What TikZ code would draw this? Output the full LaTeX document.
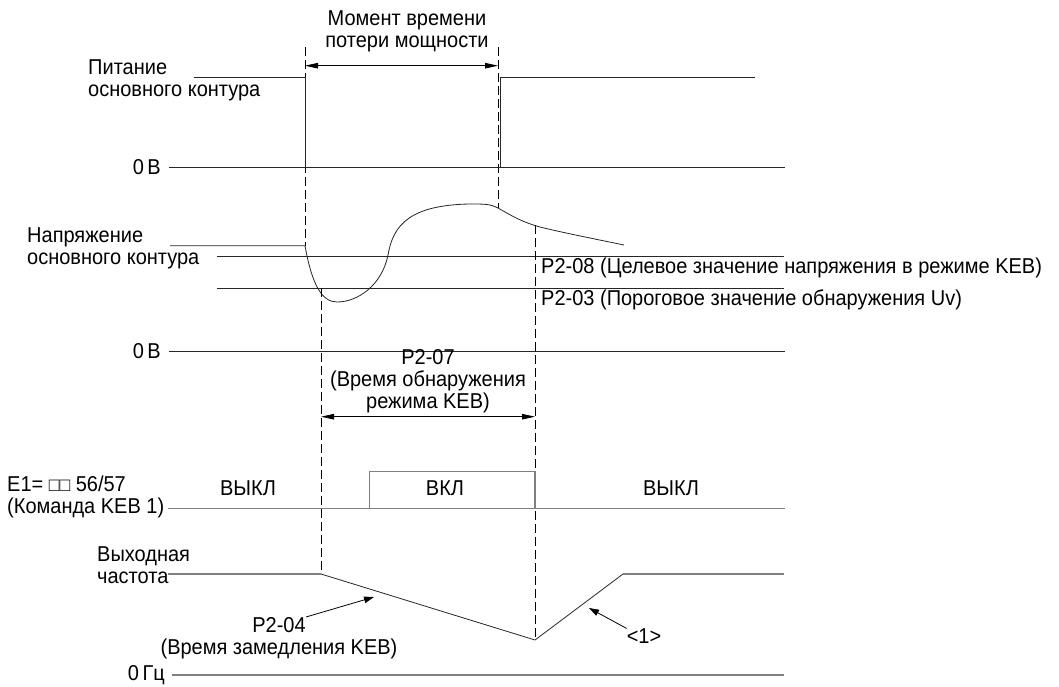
\documentclass[tikz,border=0pt]{standalone}
\usepackage{fontspec}
\setmainfont{Liberation Sans}[FakeStretch=0.93]
\usetikzlibrary{arrows.meta}

\begin{document}
\begin{tikzpicture}[x=1pt, y=-1pt, font=\fontsize{21.5}{22}\selectfont,
  sig/.style={line width=0.8pt, black!85},
  lvl/.style={line width=1.3pt, black!50},
  guide/.style={line width=0.8pt, dash pattern=on 9pt off 4pt},
  span/.style={line width=0.8pt, {Triangle[length=13pt,width=5.5pt]}-{Triangle[length=13pt,width=5.5pt]}},
  callout/.style={line width=0.8pt, -{Triangle[length=10pt,width=6.5pt]}},
  lbl/.style={inner sep=0pt, align=left},
  mid/.style={inner sep=0pt, align=center}]
  \useasboundingbox (0,0) rectangle (1059,687);
  % ---------------------------------------------------------------- power loss interval
  \node[mid] (ttl) at (407,31) {Момент времени\\потери мощности};
  \draw[guide] (305,47) -- (305,245.7);
  \draw[guide] (498,47) -- (498,208);
  \draw[span] (305,65.7) -- (498,65.7);
  % ---------------------------------------------------------------- main circuit supply
  \node[lbl, anchor=west] (pwr) at (88,80) {Питание\\основного контура};
  \draw[sig] (194,77.7) -- (305,77.7) -- (305,167);
  \draw[sig] (500,167) -- (500,77.7) -- (755,77.7);
  \node[lbl, anchor=east] (zv1) at (161,167) {0\,В};
  \draw[sig] (169,167) -- (785,167);
  % ---------------------------------------------------------------- DC bus voltage
  \node[lbl, anchor=west] (vdc) at (27,248.5) {Напряжение\\основного контура};
  \draw[sig] (170,245.7) -- (305,245.7)
    .. controls (312,285) and (322,302) .. (337,302)
    .. controls (358,302) and (382,285) .. (388,255)
    .. controls (393,225) and (410,205) .. (470,204)
    .. controls (485,204) and (490,204) .. (498,208)
    .. controls (512,216) and (522,222) .. (540,227)
    .. controls (560,232) and (590,238) .. (624,245);
  \draw[sig] (217,256.7) -- (784,256.7);
  \draw[sig] (217,288.3) -- (784,288.3);
  \node[lbl, anchor=west] (p208) at (541,268) {P2-08 (Целевое значение напряжения в режиме KEB)};
  \node[lbl, anchor=west] (p203) at (541,300) {P2-03 (Пороговое значение обнаружения Uv)};
  \node[lbl, anchor=east] (zv2) at (161,351) {0\,В};
  \draw[sig] (169,351) -- (785,351);
  % ---------------------------------------------------------------- KEB detection time
  \draw[guide] (321,288.3) -- (321,574);
  \draw[guide] (535,225) -- (535,640);
  \node[mid] (p207) at (428,381) {P2-07\\(Время обнаружения\\режима KEB)};
  \draw[span] (321,416.7) -- (535,416.7);
  % ---------------------------------------------------------------- KEB command input
  \node[lbl, anchor=west] (e1) at (7,497) {E1= {\fontsize{19}{19}\selectfont □□} 56/57\\(Команда KEB 1)};
  \draw[lvl] (168,508.3) -- (785,508.3);
  \draw[lvl] (369.5,508.3) -- (369.5,471.7) -- (535,471.7) -- (535,508.3);
  \node (off1) at (248,488) {ВЫКЛ};
  \node (on) at (445,488) {ВКЛ};
  \node (off2) at (671,488) {ВЫКЛ};
  % ---------------------------------------------------------------- output frequency
  \node[lbl, anchor=west] (fout) at (97,565) {Выходная\\частота};
  \draw[lvl] (168,574) -- (321,574);
  \draw[sig] (321,574) -- (535,640) -- (623,574);
  \draw[lvl] (623,574) -- (784,574);
  \node[lbl, anchor=east] (zhz) at (165,675) {0\,Гц};
  \draw[lvl] (172,675) -- (784,675);
  \node[mid] (p204) at (279,638) {P2-04\\(Время замедления KEB)};
  \coordinate (dectail) at (306,617);
  \coordinate (dectip) at (374,597);
  \draw[callout] (dectail) -- (dectip);
  \node[lbl] (n1) at (644,636) {<1>};
  \coordinate (acctip) at (589,608);
  \draw[callout] (n1.north west) -- (acctip);
\end{tikzpicture}
\end{document}
